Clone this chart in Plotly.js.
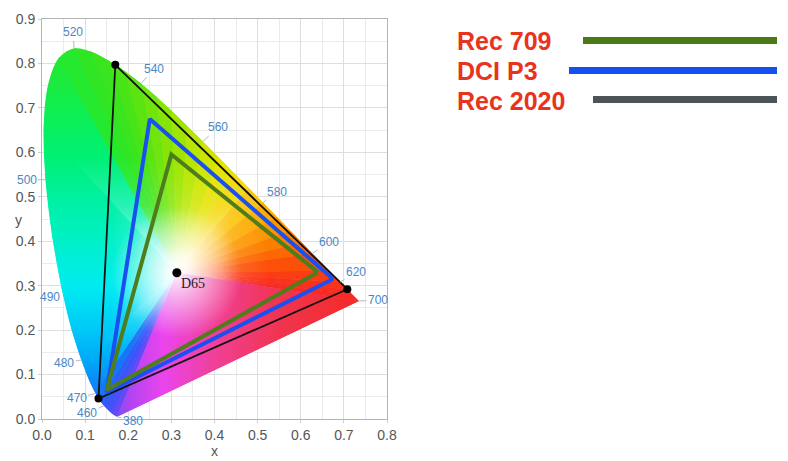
<!DOCTYPE html>
<html><head><meta charset="utf-8">
<script src="https://cdn.plot.ly/plotly-3.0.1.min.js"></script>
<style>html,body{margin:0;padding:0;background:#fff}#chart{width:788px;height:461px}</style>
</head><body><div id="chart"></div>
<script>
// ---- data ----
const locusWl = [380,440,450,460,465,470,475,480,485,490,495,500,505,510,515,520,525,530,535,540,545,550,555,560,565,570,575,580,585,590,595,600,610,620,630,640,700];
const locusX = [0.1741,0.1644,0.1566,0.1440,0.1355,0.1241,0.1096,0.0913,0.0687,0.0454,0.0235,0.0082,0.0039,0.0139,0.0389,0.0743,0.1142,0.1547,0.1929,0.2296,0.2658,0.3016,0.3373,0.3731,0.4087,0.4441,0.4788,0.5125,0.5448,0.5752,0.6029,0.6270,0.6658,0.6915,0.7079,0.7190,0.7347];
const locusY = [0.0050,0.0109,0.0177,0.0297,0.0399,0.0578,0.0868,0.1327,0.2007,0.2950,0.4127,0.5384,0.6548,0.7502,0.8120,0.8338,0.8262,0.8059,0.7816,0.7543,0.7243,0.6923,0.6589,0.6245,0.5896,0.5547,0.5202,0.4866,0.4544,0.4242,0.3965,0.3725,0.3340,0.3083,0.2920,0.2809,0.2653];
const labelWl = [380,460,470,480,490,500,520,540,560,580,600,620,700];

const gamutNames = ['Rec 709','DCI P3','Rec 2020'];
const rec709X = [0.640,0.300,0.150];
const rec709Y = [0.330,0.595,0.065];
const p3X = [0.675,0.250,0.150];
const p3Y = [0.315,0.675,0.060];
const rec2020X = [0.708,0.170,0.131];
const rec2020Y = [0.292,0.797,0.046];
const whiteName = 'D65';
const whiteX = [0.3127];
const whiteY = [0.3290];

// ---- styles ----
const hueColors = ['#7448f5','#5a48f8','#4850f8','#3058f8','#2068f8','#1080f8','#00a0f8','#00c0f8','#00d8f8','#00f0f0','#00f0d0','#00f0a0','#00f070','#10f050','#20ec36','#2ae626','#34e422','#40e41a','#52e414','#64e410','#7ae40a','#92e604','#aae600','#c4e600','#dae400','#f0e000','#f8cc00','#fcb600','#fca000','#fc8a00','#fc7200','#fc5c04','#fc4410','#fa3618','#f8301e','#f62c22','#f42a26'];
const purpleScale = [[0,'#7c50f5'],[0.05,'#b044f2'],[0.19,'#ea44ee'],[0.4,'#f04098'],[0.67,'#f03450'],[1,'#f42a26']];
const baseScale = [[0,'#6050f5'],[0.036,'#3060f8'],[0.083,'#1080f8'],[0.155,'#00a8f8'],[0.238,'#00c8f8'],[0.357,'#00ecf0'],[0.476,'#00f0c8'],[0.595,'#00f0a0'],[0.714,'#00f070'],[0.833,'#10ee50'],[1,'#2ae626']];
const whiteFade = [[0,'rgba(255,255,255,0.98)'],[0.12,'rgba(255,255,255,0.5)'],[0.3,'rgba(255,255,255,0.14)'],[0.5,'rgba(255,255,255,0)'],[1,'rgba(255,255,255,0)']];
const labelOffsets = {380:[16,4],460:[-17,7],470:[-19,5],480:[-17,3],490:[-12,9],500:[-19,0],520:[-1,-16],540:[13,-15],560:[15,-14],580:[14,-11],600:[17,-11],620:[16,-10],700:[19,-1]};
const PXX = 345/0.8, PXY = 400/0.9;
const gradStop = {left:0.0, right:0.74, up:0.84, down:0.0};

function hexToRgb(h){h=h.replace('#','');return [parseInt(h.substr(0,2),16),parseInt(h.substr(2,2),16),parseInt(h.substr(4,2),16)];}
function mixWhite(h,t){const c=hexToRgb(h);return 'rgb('+c.map(v=>Math.round(255+(v-255)*t)).join(',')+')';}
function avg(a,b){const c1=hexToRgb(a),c2=hexToRgb(b);return '#'+c1.map((v,i)=>Math.round((v+c2[i])/2).toString(16).padStart(2,'0')).join('');}

const traces = [];
const wx = whiteX[0], wy = whiteY[0];
const iSpl0 = locusWl.indexOf(440), iSpl1 = locusWl.indexOf(545);
const iBase0 = locusWl.indexOf(470), iBase1 = locusWl.indexOf(515);
// smooth base under the curved part of the locus
traces.push({
  type:'scatter', mode:'none', x:locusX.slice(iSpl0, iSpl1+1), y:locusY.slice(iSpl0, iSpl1+1), line:{shape:'spline', smoothing:1},
  fill:'toself', fillcolor:'#00f0c0', hoverinfo:'skip', showlegend:false,
  fillgradient:{type:'vertical', start:0, stop:0.84, colorscale:baseScale}
});
// base for the left side: vertical colour variation
traces.push({
  type:'scatter', mode:'none', x:[wx].concat(locusX.slice(iBase0, iBase1+1), [wx]), y:[wy].concat(locusY.slice(iBase0, iBase1+1), [wy]),
  fill:'toself', fillcolor:'#00f0c0', hoverinfo:'skip', showlegend:false,
  fillgradient:{type:'vertical', start:0, stop:0.84, colorscale:baseScale}
});
// fan of wedges from the white point
for (let pass = 0; pass < 2; pass++) {
  for (let i = 0; i < locusX.length - 1; i++) {
    const inBase = i >= iBase0 && i < iBase1;
    if (inBase && pass === 1) continue;
    const mx = (locusX[i]+locusX[i+1])/2, my = (locusY[i]+locusY[i+1])/2;
    const horiz = Math.abs((mx-wx)*PXX) >= Math.abs((my-wy)*PXY);
    const stop = horiz ? (mx < wx ? gradStop.left : gradStop.right) : (my > wy ? gradStop.up : gradStop.down);
    const h = avg(hueColors[i], hueColors[i+1]);
    const cs = inBase ? whiteFade : [[0,mixWhite(h,0.02)],[0.12,mixWhite(h,0.5)],[0.3,mixWhite(h,0.86)],[0.5,h],[1,h]];
    traces.push({
      type:'scatter', mode:'none', x:[wx, locusX[i], locusX[i+1], wx], y:[wy, locusY[i], locusY[i+1], wy],
      fill:'toself', fillcolor: inBase ? 'rgba(255,255,255,0)' : h, hoverinfo:'skip', showlegend:false,
      fillgradient:{type: horiz?'horizontal':'vertical', start: horiz?wx:wy, stop: stop, colorscale: cs}
    });
  }
  const last = locusX.length-1;
  traces.push({
    type:'scatter', mode:'none', x:[wx, locusX[last], locusX[0], wx], y:[wy, locusY[last], locusY[0], wy],
    fill:'toself', fillcolor:'#e040c0', hoverinfo:'skip', showlegend:false,
    fillgradient:{type:'horizontal', start:locusX[0], stop:locusX[last], colorscale:purpleScale}
  });
}
traces.push({
  type:'scatter', mode:'markers', x:whiteX, y:whiteY, hoverinfo:'skip', showlegend:false,
  marker:{size:130, color:'rgba(255,255,255,0)', line:{width:0}, gradient:{type:'radial', color:'rgba(255,255,255,0.92)'}}
});
function closed(a){return a.concat([a[0]]);}
traces.push({type:'scatter', mode:'lines', name:gamutNames[2], x:closed(rec2020X), y:closed(rec2020Y), line:{color:'#111111', width:1.8}, hoverinfo:'skip', showlegend:false});
traces.push({type:'scatter', mode:'lines', name:gamutNames[1], x:closed(p3X), y:closed(p3Y), line:{color:'#1a4ff0', width:4}, hoverinfo:'skip', showlegend:false});
traces.push({type:'scatter', mode:'lines', name:gamutNames[0], x:closed(rec709X), y:closed(rec709Y), line:{color:'#4f7d1c', width:4}, hoverinfo:'skip', showlegend:false});
traces.push({type:'scatter', mode:'markers', x:rec2020X, y:rec2020Y, marker:{color:'#000', size:8}, hoverinfo:'skip', showlegend:false});
traces.push({type:'scatter', mode:'markers', x:whiteX, y:whiteY, marker:{color:'#000', size:9}, hoverinfo:'skip', showlegend:false});

const annotations = [];
labelWl.forEach(w => {
  const i = locusWl.indexOf(w);
  const o = labelOffsets[w];
  annotations.push({x:locusX[i], y:locusY[i], xref:'x', yref:'y', text:String(w), showarrow:true, arrowhead:0, arrowwidth:1, arrowcolor:'#b8b8c0', ax:o[0], ay:o[1], standoff:0,
    font:{family:'Liberation Sans, Arial, sans-serif', size:12, color:'#4a86c6'}});
});
annotations.push({x:wx, y:wy, xref:'x', yref:'y', text:whiteName, showarrow:false, xanchor:'left', yanchor:'middle', xshift:2, yshift:-11,
  font:{family:'Liberation Serif, serif', size:14, color:'#222'}});
annotations.push({x:(13-42)/345, y:(419-220)/400, xref:'paper', yref:'paper', text:'y', showarrow:false,
  font:{family:'Liberation Sans, Arial, sans-serif', size:14, color:'#555'}});

// legend
const legColors = ['#4a7a16','#1450f0','#4d5458'];
const legTextY = [41, 71, 100.5];
const legLineX0 = [583, 569, 593];
const legLineY = [40.5, 70.5, 99.5];
const shapes = [];
gamutNames.forEach((n,k) => {
  annotations.push({x:(455-42)/345, y:(419-legTextY[k])/400, xref:'paper', yref:'paper', text:'<b>'+n+'</b>', showarrow:false, xanchor:'left', yanchor:'middle',
    font:{family:'Liberation Sans, Arial, sans-serif', size:25, color:'#e8341c'}});
  shapes.push({type:'line', xref:'paper', yref:'paper', x0:(legLineX0[k]-42)/345, x1:(777-42)/345, y0:(419-legLineY[k])/400, y1:(419-legLineY[k])/400,
    line:{color:legColors[k], width:7}});
});

const axisCommon = {
  showgrid:true, gridcolor:'#dedede', gridwidth:1, zeroline:false,
  showline:true, mirror:true, linecolor:'#b4b4b4', linewidth:1,
  ticks:'outside', ticklen:3, tickcolor:'#cfcfcf',
  dtick:0.1, tickformat:'.1f',
  tickfont:{family:'Liberation Sans, Arial, sans-serif', size:14, color:'#555'},
  minor:{dtick:0.05, showgrid:true, gridcolor:'#ebebeb', ticks:''}
};
const layout = {
  width:788, height:461,
  margin:{l:42, r:401, t:19, b:42, pad:0},
  paper_bgcolor:'#fff', plot_bgcolor:'#fff',
  showlegend:false, hovermode:false,
  xaxis:Object.assign({}, axisCommon, {range:[0,0.8], title:{text:'x', font:{family:'Liberation Sans, Arial, sans-serif', size:14, color:'#555'}, standoff:2}}),
  yaxis:Object.assign({}, axisCommon, {range:[0,0.9]}),
  annotations, shapes
};
Plotly.newPlot('chart', traces, layout, {displayModeBar:false, staticPlot:true});
</script></body></html>
